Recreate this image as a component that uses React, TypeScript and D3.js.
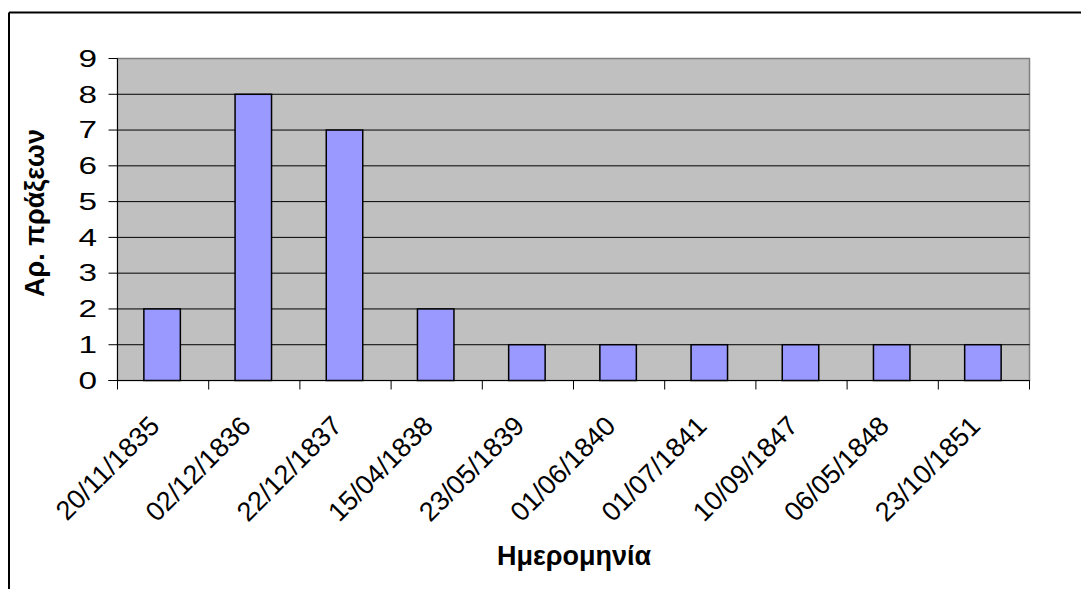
import React, { useEffect } from "react";
import * as d3 from "d3";

const categories = ["20/11/1835", "02/12/1836", "22/12/1837", "15/04/1838", "23/05/1839", "01/06/1840", "01/07/1841", "10/09/1847", "06/05/1848", "23/10/1851"];
const values = [2, 8, 7, 2, 1, 1, 1, 1, 1, 1];
const yTicks = [0, 1, 2, 3, 4, 5, 6, 7, 8, 9];
const xTitle = "Ημερομηνία";
const yTitle = "Αρ. πράξεων";

const W = 1081, H = 589;
const L = 117.5, R = 1029.5, T = 58.5, B = 380.5;
const FONT = "'Liberation Sans', Arial, sans-serif";

export default function App() {
  useEffect(() => {
    document.body.style.margin = "0";
    document.body.style.overflow = "hidden";
  }, []);
  const x = d3.scaleBand<string>().domain(categories).range([L, R]).paddingInner(0).paddingOuter(0);
  const y = d3.scaleLinear().domain([0, 9]).range([B, T]);
  const bw = x.bandwidth() / 2.5;
  const lx = 97;
  return (
    <svg width={W} height={H} style={{ position: "absolute", left: 0, top: 0, overflow: "hidden" }} fontFamily={FONT}>
      <rect x={0} y={0} width={W} height={H} fill="#fff" />
      <line x1={9} x2={W} y1={12.5} y2={12.5} stroke="#000" strokeWidth={2} />
      <line x1={9} x2={9} y1={12.5} y2={H} stroke="#000" strokeWidth={2} />
      <rect x={L} y={T} width={R - L} height={B - T} fill="#c0c0c0" stroke="#808080" strokeWidth={1.5} />
      {yTicks.filter(t => t > 0 && t < 9).map(t => (
        <line key={t} x1={L} x2={R} y1={y(t)} y2={y(t)} stroke="#000" strokeWidth={1} />
      ))}
      {categories.map((c, i) => (
        <rect key={c} x={(x(c) as number) + (x.bandwidth() - bw) / 2 - 1} y={y(values[i])} width={bw} height={B - y(values[i])}
          fill="#9999ff" stroke="#000" strokeWidth={1.5} />
      ))}
      <line x1={L} x2={L} y1={T} y2={B + 9} stroke="#000" strokeWidth={1} />
      <line x1={L - 9} x2={R} y1={B} y2={B} stroke="#000" strokeWidth={1} />
      {yTicks.map(t => (
        <g key={t}>
          <line x1={L - 9} x2={L} y1={y(t)} y2={y(t)} stroke="#000" strokeWidth={1} />
          <text x={lx} y={y(t)} dy="0.36em" textAnchor="end" fontSize={23} transform={`translate(${lx} 0) scale(1.45 1) translate(${-lx} 0)`}>{t}</text>
        </g>
      ))}
      {categories.map((c, i) => (
        <line key={"t" + i} x1={(x(c) as number) + x.bandwidth()} x2={(x(c) as number) + x.bandwidth()} y1={B} y2={B + 9} stroke="#000" strokeWidth={1} />
      ))}
      {categories.map(c => {
        const cx = (x(c) as number) + x.bandwidth() / 2 - 2;
        const cy = B + 47;
        return (
          <text key={"l" + c} x={cx} y={cy} transform={`rotate(-45 ${cx} ${cy})`} textAnchor="end" fontSize={27}>{c}</text>
        );
      })}
      <text x={574} y={565} textAnchor="middle" fontSize={27} fontWeight="bold">{xTitle}</text>
      <text transform={`translate(44 ${213}) rotate(-90)`} textAnchor="middle" fontSize={27} fontWeight="bold">{yTitle}</text>
    </svg>
  );
}
